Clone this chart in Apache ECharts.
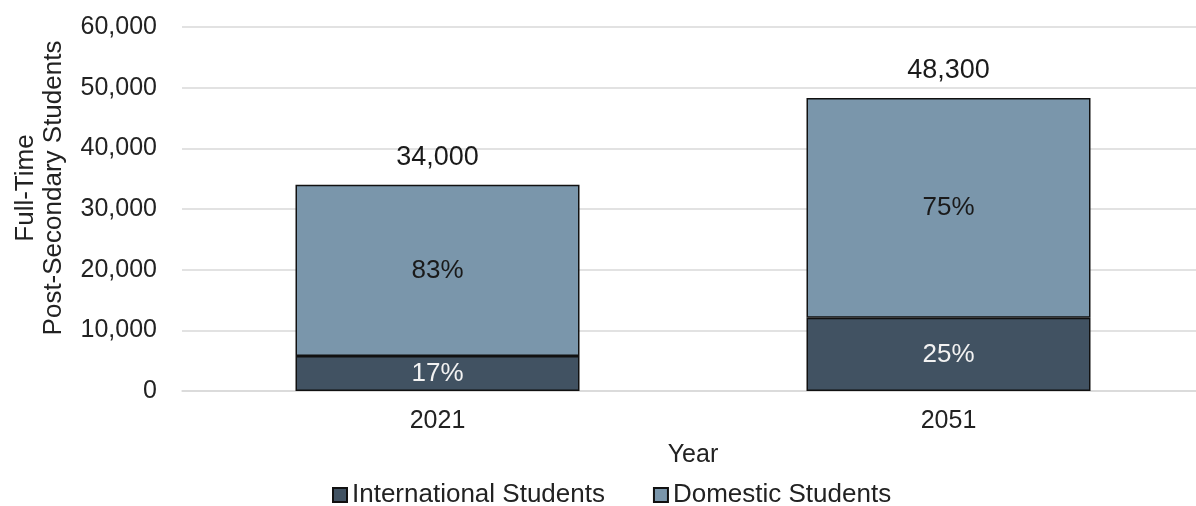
<!DOCTYPE html>
<html>
<head>
<meta charset="utf-8">
<script src="https://cdn.jsdelivr.net/npm/echarts@6/dist/echarts.min.js"></script>
<style>html,body{margin:0;padding:0;background:#fff;overflow:hidden;width:1196px;height:506px}#c{width:1204px;height:506px}</style>
</head>
<body>
<div id="c"></div>
<script>
const categories = ['2021', '2051'];
const international = [5780, 12075];
const domestic = [28220, 36225];
const totals = [34000, 48300];
const intlPct = ['17%', '25%'];
const domPct = ['83%', '75%'];
const yTicks = [0, 10000, 20000, 30000, 40000, 50000, 60000];

const FONT = '"Liberation Sans", Arial, sans-serif';
const chart = echarts.init(document.getElementById('c'));
chart.setOption({
  animation: false,
  textStyle: { fontFamily: FONT },
  grid: { left: 182, top: 27, width: 1022, height: 364, containLabel: false },
  xAxis: {
    type: 'category', data: categories,
    name: 'Year', nameLocation: 'middle', nameGap: 52,
    nameTextStyle: { fontSize: 25, color: '#222', fontFamily: FONT },
    axisLine: { lineStyle: { color: '#d9d9d9', width: 1.5 } },
    axisTick: { show: false },
    axisLabel: { fontSize: 25, color: '#222', margin: 18, fontFamily: FONT }
  },
  yAxis: {
    type: 'value', min: yTicks[0], max: yTicks[yTicks.length - 1], interval: 10000,
    axisLine: { show: false }, axisTick: { show: false },
    splitLine: { lineStyle: { color: '#d9d9d9', width: 1.5 } },
    axisLabel: { fontSize: 25, color: '#222', margin: 25, fontFamily: FONT,
      formatter: v => v.toLocaleString('en-US') }
  },
  legend: {
    data: ['International Students', 'Domestic Students'],
    left: 332, top: 482, padding: 0, itemWidth: 14, itemHeight: 14, itemGap: 48,
    icon: 'rect',
    textStyle: { fontSize: 26, color: '#222', fontFamily: FONT }
  },
  graphic: [{
    type: 'text', x: 40, y: 188, rotation: Math.PI / 2,
    style: { text: 'Full-Time\nPost-Secondary Students', font: '26px ' + FONT,
      fill: '#222', align: 'center', verticalAlign: 'middle', lineHeight: 28 }
  }],
  series: [
    { name: 'International Students', type: 'bar', stack: 's', barWidth: 284,
      data: international,
      itemStyle: { color: '#415262', borderColor: '#111', borderWidth: 1.5 },
      label: { show: true, position: 'inside', fontSize: 26, color: '#f2f2f2',
        formatter: p => intlPct[p.dataIndex] } },
    { name: 'Domestic Students', type: 'bar', stack: 's', barWidth: 284,
      data: domestic,
      itemStyle: { color: '#7a96ab', borderColor: '#111', borderWidth: 1.5 },
      label: { show: true, position: 'inside', fontSize: 26, color: '#1a1a1a',
        formatter: p => domPct[p.dataIndex] } },
    { name: 'Total', type: 'bar', stack: 's', barWidth: 284,
      data: totals.map(() => 0),
      itemStyle: { color: 'transparent' },
      label: { show: true, position: 'top', distance: 14, fontSize: 27, color: '#1a1a1a',
        formatter: p => totals[p.dataIndex].toLocaleString('en-US') } }
  ]
});
</script>
</body>
</html>
